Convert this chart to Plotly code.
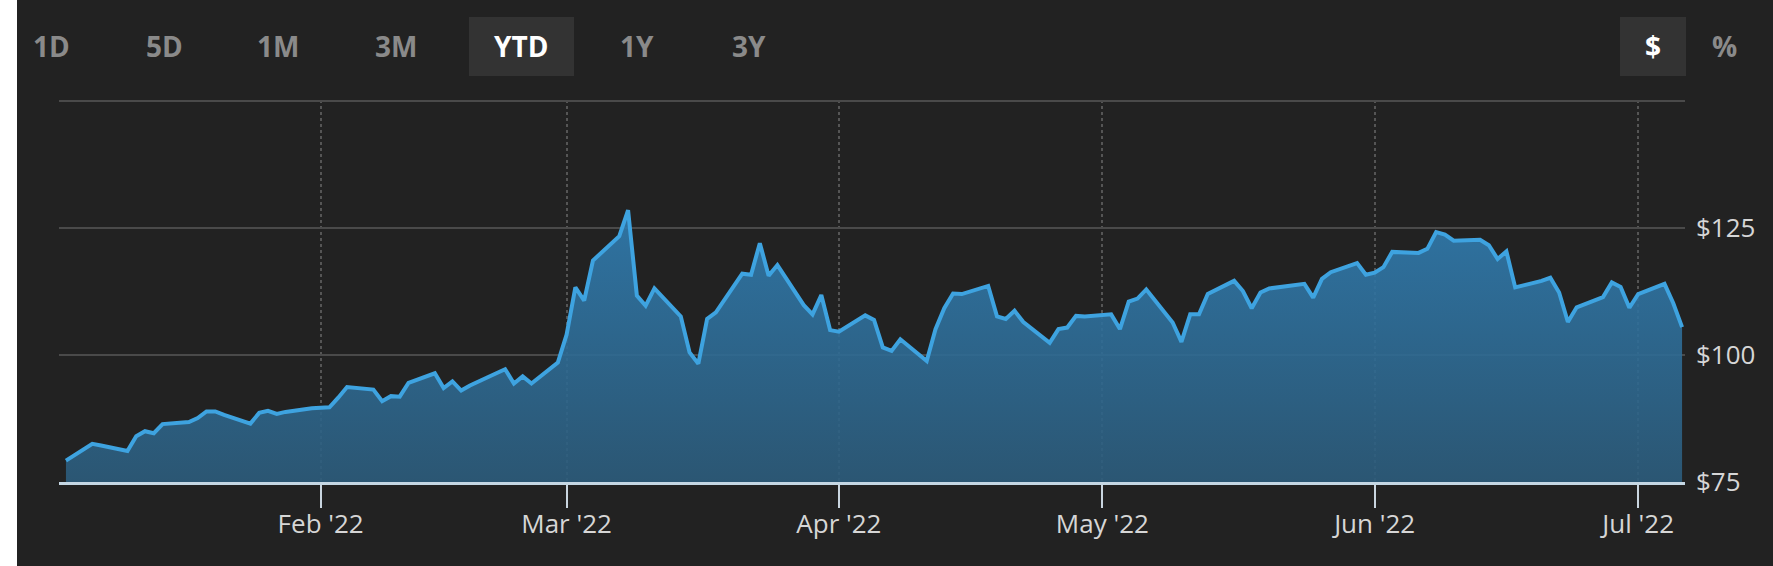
import pandas as pd
import plotly.graph_objects as go

# ---------------- data ----------------
jan = [79.2, 80.3, 81.5, 82.5, 82.2,
       81.1, 84.0, 85.0, 84.6, 86.4,
       86.8, 87.6, 88.9, 88.9, 88.2,
       86.5, 88.6, 89.0, 88.4, 88.8,
       89.5]
feb = [89.6, 89.7, 91.6, 93.7,
       93.2, 90.9, 91.9, 91.8, 94.5,
       96.4, 93.5, 94.8, 93.0, 94.0,
       96.4, 97.2, 94.4, 95.8, 94.4,
       98.5]
mar = [104.0, 113.3, 110.7, 118.6,
       123.4, 128.5, 111.7, 109.7, 113.1,
       107.6, 100.5, 98.3, 107.1, 108.4,
       116.0, 115.8, 122.0, 115.6, 117.7,
       109.8, 108.0, 111.8, 104.9]
apr = [104.6,
       107.8, 106.9, 101.5, 100.8, 103.1,
       98.8, 105.1, 109.2, 112.1, 112.0,
       113.6, 107.6, 107.1, 108.7, 106.5,
       102.4, 105.1, 105.4, 107.7, 107.6]
may = [108.0, 105.1, 110.5, 111.1, 112.9,
       106.4, 102.6, 108.0, 108.0, 112.0,
       114.6, 112.6, 109.2, 112.3, 113.1,
       113.7, 114.0, 111.3, 115.0, 116.3,
       118.1, 115.8]
jun = [116.2, 117.3, 120.3,
       120.1, 120.9, 124.2, 123.7, 122.5,
       122.7, 121.6, 118.9, 120.4, 113.3,
       114.6, 115.2, 112.3, 106.5, 109.4,
       111.4, 114.3, 113.4, 109.3]
jul = [112.0, 114.0, 110.2, 105.5]

prices = jan + feb + mar + apr + may + jun + jul
dates = pd.bdate_range("2022-01-03", "2022-07-06")

y_ticks = [75, 100, 125, 150]
y_labels = ["$75", "$100", "$125", ""]
range_buttons = ["1D", "5D", "1M", "3M", "YTD", "1Y", "3Y"]
selected_range = "YTD"
unit_buttons = ["$", "%"]
selected_unit = "$"

# ---------------- layout constants ----------------
W, H = 1773, 566
ML, MR, MT, MB = 59, 88, 100, 84
PW, PH = W - ML - MR, H - MT - MB
BG = "#222222"
FONT = "Open Sans"


def px(xp):
    return (xp - ML) / PW


def py(yp):
    return (H - MB - yp) / PH


fig = go.Figure()
fig.add_trace(go.Scatter(
    x=dates, y=prices, mode="lines",
    line=dict(color="#3ea3e0", width=4),
    fill="tozeroy",
    fillgradient=dict(type="vertical",
                      colorscale=[[0, "rgba(44,92,124,0.9)"],
                                  [1, "rgba(48,124,176,0.9)"]],
                      start=75, stop=128),
    hoverinfo="skip", showlegend=False,
))

shapes = [
    dict(type="rect", xref="paper", yref="paper", x0=px(0), x1=px(17),
         y0=py(H), y1=py(0), fillcolor="#ffffff", line_width=0, layer="below"),
    dict(type="rect", xref="paper", yref="paper", x0=px(469), x1=px(574),
         y0=py(76), y1=py(17), fillcolor="#333333", line_width=0, layer="below"),
    dict(type="rect", xref="paper", yref="paper", x0=px(1620), x1=px(1686),
         y0=py(76), y1=py(17), fillcolor="#333333", line_width=0, layer="below"),
]

btn_x = [51, 164, 278, 396, 521, 637, 749]
annotations = []
for lab, bx in zip(range_buttons, btn_x):
    sel = lab == selected_range
    annotations.append(dict(
        text="<b>%s</b>" % lab, x=px(bx), y=py(46), xref="paper", yref="paper",
        showarrow=False, xanchor="center", yanchor="middle",
        font=dict(family=FONT, size=28, color="#ffffff" if sel else "#8a8a8a")))
for lab, bx in zip(unit_buttons, [1653, 1724]):
    sel = lab == selected_unit
    annotations.append(dict(
        text="<b>%s</b>" % lab, x=px(bx), y=py(46), xref="paper", yref="paper",
        showarrow=False, xanchor="center", yanchor="middle",
        font=dict(family=FONT, size=28, color="#ffffff" if sel else "#8a8a8a")))

fig.update_layout(
    width=W, height=H,
    margin=dict(l=ML, r=MR, t=MT, b=MB, pad=0),
    paper_bgcolor=BG, plot_bgcolor=BG,
    font=dict(family=FONT, color="#d6d6d6", size=26),
    shapes=shapes, annotations=annotations,
    xaxis=dict(
        type="date",
        range=["2022-01-02 05:00", "2022-07-06 08:00"],
        tick0="2022-01-01", dtick="M1", tickformat="%b '%y",
        showgrid=True, gridcolor="#555555", gridwidth=2, griddash="dot",
        ticks="outside", ticklen=23, tickwidth=2, tickcolor="#c9d5df",
        ticklabelstandoff=-6,
        showline=True, linecolor="#c5d7e4", linewidth=3,
        zeroline=False, fixedrange=True,
        tickfont=dict(family=FONT, size=26, color="#d6d6d6"),
    ),
    yaxis=dict(
        side="right", range=[75, 150.2],
        tickvals=y_ticks, ticktext=y_labels,
        showgrid=True, gridcolor="#4a4a4a", gridwidth=2,
        ticks="", ticklabelstandoff=10,
        showline=False, zeroline=False, fixedrange=True,
        tickfont=dict(family=FONT, size=26, color="#d6d6d6"),
    ),
)

fig.write_html("out.html",
               post_script="document.body.style.margin='0';document.body.style.overflow='hidden';",
               config={"displayModeBar": False})
